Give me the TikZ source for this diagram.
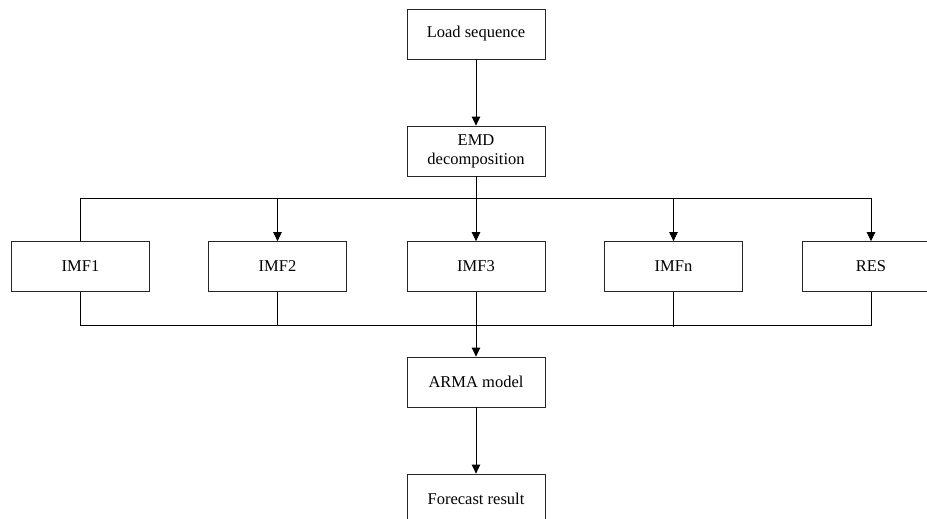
\documentclass[tikz,border=0pt]{standalone}
\usepackage{fontspec}
\setmainfont{Liberation Serif}
\usetikzlibrary{arrows.meta,calc}
\begin{document}
\begin{tikzpicture}[x=1pt,y=-1pt,
  box/.style={draw=black!85,line width=0.8pt,minimum width=138pt,minimum height=50pt,align=center,inner sep=2pt,font=\fontsize{16.5}{19}\selectfont},
  conn/.style={line width=0.8pt,draw=black},
  arr/.style={conn,-{Triangle[length=9pt,width=8.5pt]}}]
\useasboundingbox (0,0) rectangle (927,519);
\clip (0,0) rectangle (927,519);
\node[box] (load) at (476,34) {Load sequence};
\node[box] (emd) at (476,151) {EMD\\decomposition};
\node[box] (imf1) at (80.5,266.5) {IMF1};
\node[box] (imf2) at (277.5,266.5) {IMF2};
\node[box] (imf3) at (476,266.5) {IMF3};
\node[box] (imfn) at (673.5,266.5) {IMFn};
\node[box] (res) at (871,266.5) {RES};
\node[box] (arma) at (476,382) {ARMA model};
\node[box] (fc) at (476,499) {Forecast result};
\coordinate (bar) at (476,198);
\coordinate (bot) at (476,325);
\draw[arr] (load.south) -- (emd.north);
\draw[conn] (emd.south) -- (bar);
\draw[conn] (imf1.north) -- (imf1.north |- bar) -- (res.north |- bar);
\draw[arr] (imf2.north |- bar) -- (imf2.north);
\draw[arr] (bar) -- (imf3.north);
\draw[arr] (imfn.north |- bar) -- (imfn.north);
\draw[arr] (res.north |- bar) -- (res.north);
\draw[conn] (imf1.south) -- (imf1.south |- bot) -- (res.south |- bot) -- (res.south);
\draw[conn] (imf2.south) -- (imf2.south |- bot);
\draw[conn] (imfn.south) -- ($(imfn.south |- bot)+(0,2)$);
\draw[arr] (imf3.south) -- (arma.north);
\draw[arr] (arma.south) -- (fc.north);
\end{tikzpicture}
\end{document}
